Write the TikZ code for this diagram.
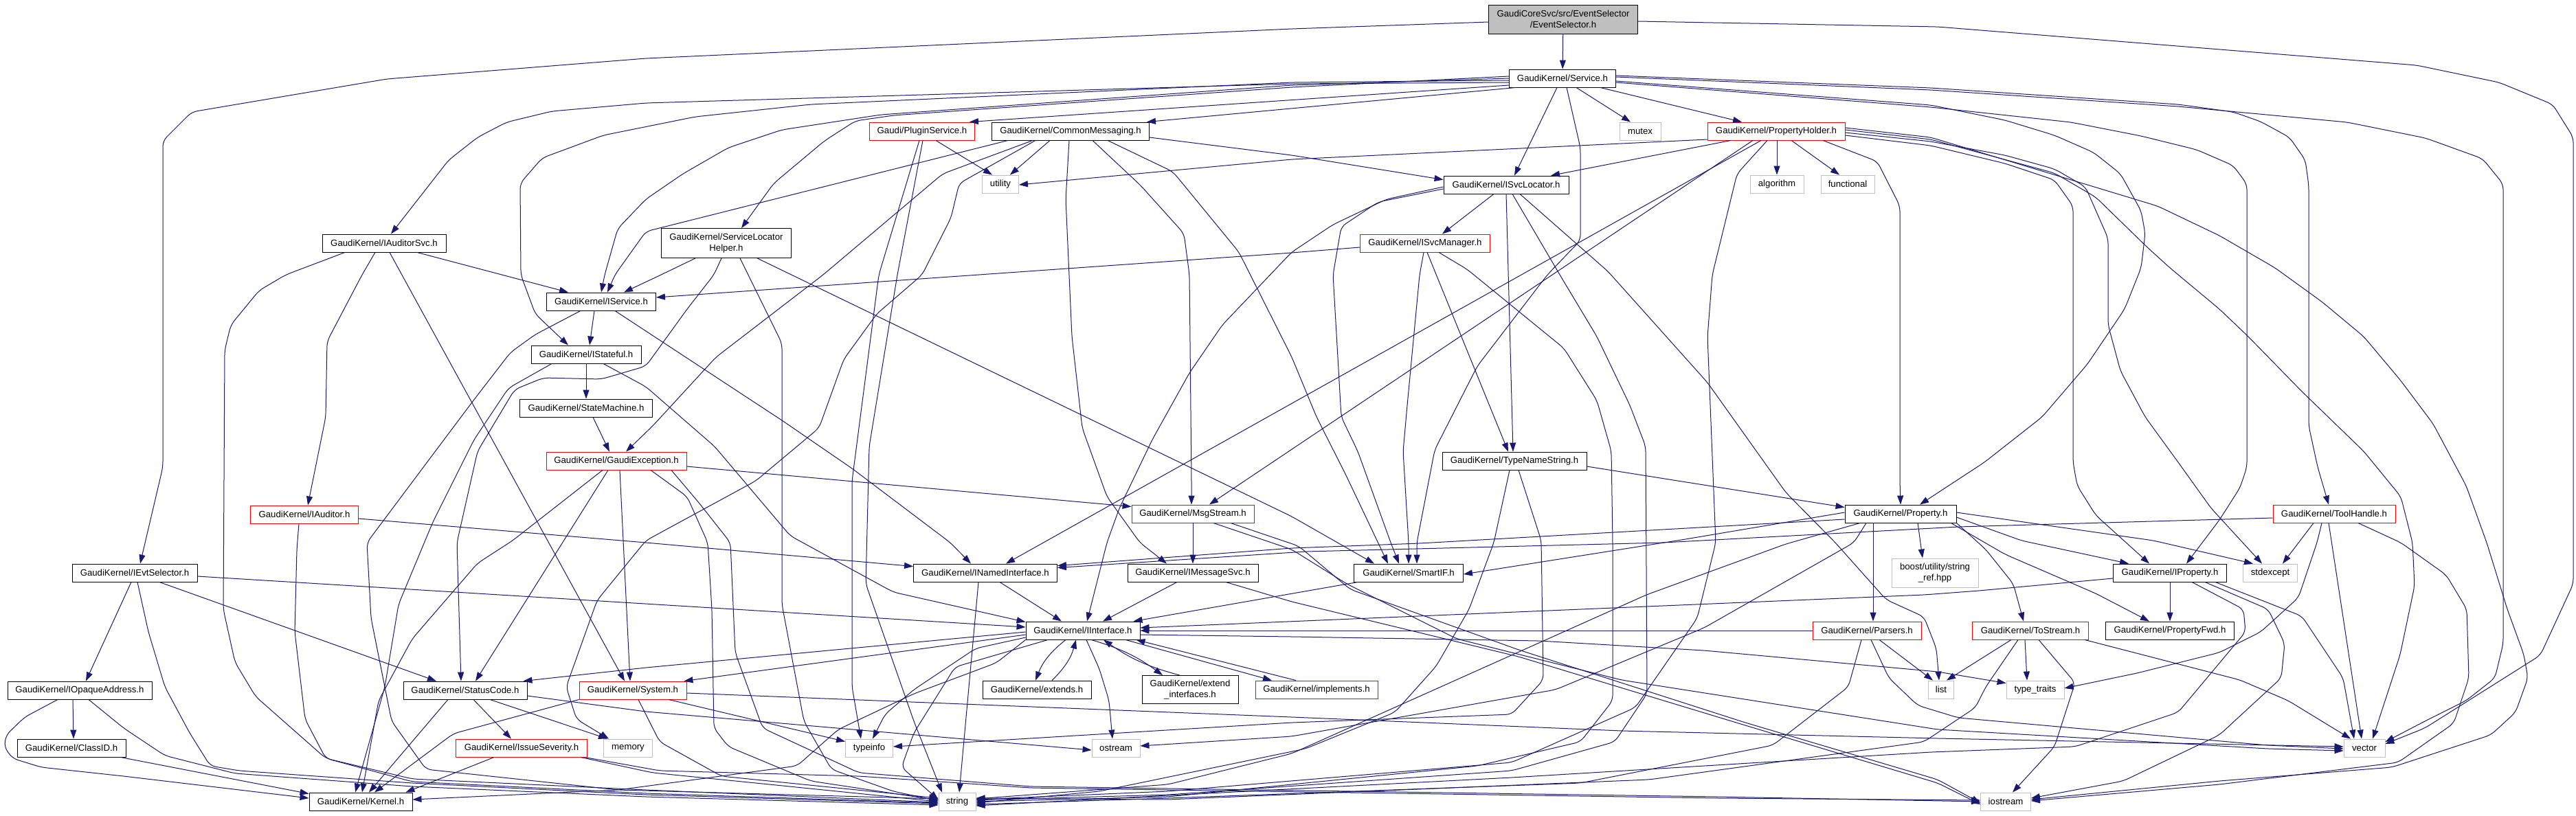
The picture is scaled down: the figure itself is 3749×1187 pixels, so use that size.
\documentclass[tikz,border=0pt]{standalone}
\usepackage{fontspec}
\setmainfont{Liberation Sans}
\usetikzlibrary{arrows.meta}
\definecolor{edgec}{RGB}{25,25,112}
\definecolor{grayb}{RGB}{191,191,191}
\begin{document}
\begin{tikzpicture}[x=1pt,y=-1pt,
  nd/.style={draw, line width=0.9pt, inner sep=1pt, minimum height=26pt, font=\fontsize{13.2}{15.5}\selectfont, align=center, text=black},
  blk/.style={nd, draw=black},
  rd/.style={nd, draw=red},
  gy/.style={nd, draw=grayb},
  root/.style={nd, draw=black, fill=grayb},
  e/.style={draw=edgec, line width=1pt, rounded corners=8pt, -{Triangle[length=13pt,width=9pt]}},
]
\fill[white] (0,0) rectangle (3749,1187);
\useasboundingbox (0,0) rectangle (3749,1187);

% ---------------- nodes ----------------
\node[root, minimum width=217pt, minimum height=42pt] (ES) at (2275,28) {GaudiCoreSvc/src/EventSelector\\/EventSelector.h};
\node[blk, minimum width=155pt] (Svc) at (2274,114) {GaudiKernel/Service.h};
\node[blk, minimum width=180pt] (IAS) at (559,354) {GaudiKernel/IAuditorSvc.h};
\node[rd, minimum width=153pt] (PS) at (1342,191) {Gaudi/PluginService.h};
\node[blk, minimum width=229pt] (CM) at (1558,191) {GaudiKernel/CommonMessaging.h};
\node[gy, minimum width=53pt] (util) at (1456,268) {utility};
\node[blk, minimum width=189pt, minimum height=43pt] (SLH) at (1057,354) {GaudiKernel/ServiceLocator\\Helper.h};
\node[gy, minimum width=60pt] (mutex) at (2387,191) {mutex};
\node[rd, minimum width=200pt] (PH) at (2585,191) {GaudiKernel/PropertyHolder.h};
\node[blk, minimum width=182pt] (ISL) at (2192,269) {GaudiKernel/ISvcLocator.h};
\node[gy, minimum width=78pt] (algo) at (2586,268) {algorithm};
\node[gy, minimum width=78pt] (func) at (2689,268) {functional};
\node[rd, minimum width=189pt] (ISM) at (2074,354) {GaudiKernel/ISvcManager.h};
\node[blk, minimum width=159pt] (IServ) at (875,439) {GaudiKernel/IService.h};
\node[blk, minimum width=160pt] (IStat) at (853,516) {GaudiKernel/IStateful.h};
\node[blk, minimum width=193pt] (SM) at (853,594) {GaudiKernel/StateMachine.h};
\node[rd, minimum width=204pt] (GE) at (897,671) {GaudiKernel/GaudiException.h};
\node[rd, minimum width=157pt] (IAud) at (443,749) {GaudiKernel/IAuditor.h};
\node[rd, minimum width=178pt] (MS) at (1736,748) {GaudiKernel/MsgStream.h};
\node[blk, minimum width=210pt] (TNS) at (2204,671) {GaudiKernel/TypeNameString.h};
\node[blk, minimum width=162pt] (Prop) at (2766,748) {GaudiKernel/Property.h};
\node[rd, minimum width=178pt] (TH) at (3397,748) {GaudiKernel/ToolHandle.h};
\node[blk, minimum width=182pt] (IES) at (196,834) {GaudiKernel/IEvtSelector.h};
\node[blk, minimum width=210pt] (IOA) at (116,1005) {GaudiKernel/IOpaqueAddress.h};
\node[blk, minimum width=158pt] (CID) at (104,1089) {GaudiKernel/ClassID.h};
\node[blk, minimum width=150pt] (Kern) at (525,1167) {GaudiKernel/Kernel.h};
\node[blk, minimum width=180pt] (SC) at (677,1005) {GaudiKernel/StatusCode.h};
\node[rd, minimum width=156pt] (Sys) at (921,1005) {GaudiKernel/System.h};
\node[rd, minimum width=191pt] (ISev) at (759,1089) {GaudiKernel/IssueSeverity.h};
\node[gy, minimum width=71pt] (mem) at (914,1089) {memory};
\node[blk, minimum width=209pt] (INI) at (1434,834) {GaudiKernel/INamedInterface.h};
\node[blk, minimum width=190pt] (IMS) at (1736,834) {GaudiKernel/IMessageSvc.h};
\node[blk, minimum width=166pt] (II) at (1576,918) {GaudiKernel/IInterface.h};
\node[blk, minimum width=158pt] (ext) at (1509,1004) {GaudiKernel/extends.h};
\node[blk, minimum width=140pt, minimum height=41pt] (exti) at (1732,1004) {GaudiKernel/extend\\\_interfaces.h};
\node[rd, minimum width=178pt] (impl) at (1916,1004) {GaudiKernel/implements.h};
\node[gy, minimum width=69pt] (tinfo) at (1265,1089) {typeinfo};
\node[gy, minimum width=70pt] (ostr) at (1624,1089) {ostream};
\node[gy, minimum width=54pt] (str) at (1393,1167) {string};
\node[blk, minimum width=159pt] (SIF) at (2050,834) {GaudiKernel/SmartIF.h};
\node[rd, minimum width=158pt] (Pars) at (2717,918) {GaudiKernel/Parsers.h};
\node[gy, minimum width=126pt, minimum height=42pt] (boost) at (2816,834) {boost/utility/string\\\_ref.hpp};
\node[gy, minimum width=37pt] (list) at (2825,1004) {list};
\node[blk, minimum width=165pt] (IProp) at (3158,834) {GaudiKernel/IProperty.h};
\node[gy, minimum width=79pt] (stdex) at (3304,834) {stdexcept};
\node[rd, minimum width=169pt] (TS) at (2955,918) {GaudiKernel/ToStream.h};
\node[blk, minimum width=187pt] (PF) at (3158,918) {GaudiKernel/PropertyFwd.h};
\node[gy, minimum width=84pt] (tt) at (2962,1004) {type\_traits};
\node[gy, minimum width=60pt] (vec) at (3441,1089) {vector};
\node[gy, minimum width=73pt] (iostr) at (2919,1167) {iostream};

% ---------------- edges ----------------
% EventSelector
\draw[e] (ES) -- (Svc);
\draw[e] ([yshift=-4pt]ES.west) -- (1880,42) -- (940,85) -- (563,115) -- (279,163) -- (237,205) -- (237,680) -- ([xshift=8pt]IES.north);
\draw[e] ([yshift=-3pt]ES.east) -- (2820,39) -- (3517,95) -- (3637,120) -- (3715,152) -- (3745,200) -- (3745,850) -- (3697,954) -- (3529,1060) -- ([yshift=6pt]vec.east);

% Service
\draw[e] ([yshift=-6pt]Svc.west) -- (1880,122) -- (940,150) -- (803,162) -- (737,178) -- (695,200) -- (653,233) -- ([xshift=10pt]IAS.north);
\draw[e] ([yshift=-3pt]Svc.west) -- (1880,120) -- (1180,152) -- (1012,170) -- (878,197) -- (789,230) -- (757,267) -- (758,400) -- (779,457) -- ([xshift=-26pt]IStat.north);
\draw[e] (Svc.west) -- (1880,124) -- (1282,167) -- (1138,189) -- (1060,215) -- (994,253) -- (940,290) -- (899,333) -- (880,400) -- (IServ.north);
\draw[e] ([yshift=3pt]Svc.west) -- (1880,127) -- (1300,168) -- (1245,176) -- (1200,205) -- (1126,267) -- ([xshift=22pt]SLH.north);
\draw[e] ([yshift=-10pt]Svc.west) -- ([xshift=-8pt]PS.north east);
\draw[e] ([xshift=10pt]Svc.south west) -- ([xshift=-4pt]CM.north east);
\draw[e] ([xshift=-8pt]Svc.south) -- ([xshift=12pt]ISL.north);
\draw[e] ([xshift=6pt]Svc.south) -- (2300,215) -- (2300,350) -- (2252,400) -- (2150,533) -- (2088,655) -- (2062,790) -- ([xshift=12pt]SIF.north);
\draw[e] ([xshift=20pt]Svc.south) -- ([xshift=-14pt]mutex.north);
\draw[e] ([xshift=55pt]Svc.south) -- ([xshift=-50pt]PH.north);
\draw[e] ([yshift=4pt]Svc.east) -- (2810,128) -- (3170,152) -- (3250,163) -- (3290,177) -- (3332,200) -- (3355,233) -- (3360,270) -- (3360,620) -- (3373,680) -- ([xshift=-8pt]TH.north);
\draw[e] ([yshift=2pt]Svc.east) -- (2810,131) -- (3170,155) -- (3416,178) -- (3530,201) -- (3613,231) -- (3643,268) -- (3643,937) -- (3631,987) -- (3589,1020) -- (3529,1050) -- ([yshift=9pt]vec.east);
\draw[e] ([yshift=-4pt]Svc.east) -- (2810,153) -- (2918,175) -- (2990,197) -- (3047,222) -- (3086,253) -- (3116,307) -- (3122,340) -- (3116,390) -- (3092,450) -- (3038,530) -- (2972,607) -- (2888,673) -- ([xshift=28pt]Prop.north);
\draw[e] ([yshift=-6pt]Svc.east) -- (2810,156) -- (3014,178) -- (3116,198) -- (3197,218) -- (3250,241) -- (3270,268) -- (3270,680) -- (3260,710) -- (3230,757) -- ([xshift=24pt]IProp.north);

% PropertyHolder
\draw[e] ([yshift=-12pt]PH.west) -- (1880,232) -- ([yshift=-1pt]util.east);
\draw[e] ([xshift=-66pt]PH.south) -- ([xshift=65pt]ISL.north);
\draw[e] ([xshift=-34pt]PH.south) -- ([xshift=24pt]MS.north);
\draw[e] ([xshift=-22pt]PH.south) -- ([xshift=30pt]INI.north);
\draw[e] ([xshift=-13pt]PH.south) -- (2528,253) -- (2492,400) -- (2485,490) -- (2497,790) -- (2470,900) -- (2380,1030) -- (2200,1110) -- (1700,1152) -- ([yshift=3pt]str.east);
\draw[e] ([xshift=1pt]PH.south) -- (algo.north);
\draw[e] ([xshift=22pt]PH.south) -- ([xshift=-12pt]func.north);
\draw[e] ([xshift=68pt]PH.south) -- (2732,235) -- (2765,300) -- (2765,700) -- (Prop.north);
\draw[e] ([yshift=-6pt]PH.east) -- (2810,212) -- (2918,238) -- (2990,262) -- (3017,300) -- (3017,673) -- (3023,707) -- (3050,750) -- ([xshift=-30pt]IProp.north);
\draw[e] ([yshift=-2pt]PH.east) -- (2810,206) -- (2918,226) -- (2990,246) -- (3035,272) -- (3068,347) -- (3068,473) -- (3086,540) -- (3122,607) -- (3170,673) -- (3218,740) -- ([xshift=-12pt]stdex.north);
\draw[e] ([yshift=2pt]PH.east) -- (2810,203) -- (2990,252) -- (3050,287) -- (3125,360) -- (3158,390) -- (3230,450) -- (3272,490) -- (3350,570) -- (3440,657) -- (3494,723) -- (3511,790) -- (3514,853) -- (3493,953) -- ([xshift=12pt]vec.north);
\draw[e] ([yshift=5pt]PH.east) -- (2810,200) -- (3140,300) -- (3230,343) -- (3311,390) -- (3380,440) -- (3440,490) -- (3493,553) -- (3541,617) -- (3589,707) -- (3619,790) -- (3649,887) -- (3673,953) -- (3679,987) -- (3661,1037) -- (3625,1070) -- (3481,1117) -- (3230,1137) -- ([yshift=3pt]iostr.east);

% CommonMessaging
\draw[e] ([xshift=-91pt]CM.south) -- (940,337) -- (895,400) -- ([xshift=9pt]IServ.north);
\draw[e] ([xshift=-55pt]CM.south) -- (1372,253) -- (1198,400) -- (1042,520) -- (950,620) -- ([xshift=14pt]GE.north);
\draw[e] ([xshift=-51pt]CM.south) -- (1396,267) -- (1384,317) -- (1342,400) -- (1276,457) -- (1228,523) -- (1192,623) -- (1100,700) -- (940,787) -- (869,874) -- (824,1000) -- (839,1047) -- ([xshift=-28pt]mem.north);
\draw[e] ([xshift=-30pt]CM.south) -- ([xshift=14pt]util.north);
\draw[e] ([xshift=-2pt]CM.south) -- (1551,290) -- (1560,490) -- (1575,623) -- (1611,723) -- (1659,790) -- ([xshift=-38pt]IMS.north);
\draw[e] ([xshift=32pt]CM.south) -- (1660,270) -- (1723,340) -- (1731,400) -- (1734,700) -- ([xshift=-2pt]MS.north);
\draw[e] ([xshift=54pt]CM.south) -- (1707,250) -- (1803,367) -- (1880,520) -- (1916,607) -- (1958,690) -- ([xshift=-30pt]SIF.north);
\draw[e] ([yshift=-9pt]CM.east) -- (1880,226) -- ([yshift=-6pt]ISL.north west);

% ServiceLocatorHelper
\draw[e] ([xshift=-45pt]SLH.south) -- (958,402) -- ([xshift=33pt]IServ.north);
\draw[e] ([xshift=-7pt]SLH.south) -- (1039,400) -- (1000,450) -- (940,533) -- (875,552) -- (791,550) -- (749,567) -- (695,657) -- (665,790) -- ([xshift=-6pt]SC.north);
\draw[e] ([xshift=20pt]SLH.south) -- (1138,500) -- (1138,880) -- (1170,1050) -- (1210,1120) -- (1300,1152) -- ([yshift=1pt]str.west);
\draw[e] ([xshift=45pt]SLH.south) -- (1880,752) -- ([xshift=-50pt]SIF.north);

% IAuditorSvc
\draw[e] ([xshift=48pt]IAS.south) -- ([xshift=-48pt]IServ.north);
\draw[e] ([xshift=-13pt]IAS.south) -- (527,400) -- (476,497) -- (474,607) -- ([xshift=5pt]IAud.north);
\draw[e] ([xshift=8pt]IAS.south) -- ([xshift=-12pt]Sys.north);
\draw[e] ([xshift=-57pt]IAS.south) -- (416,400) -- (377,423) -- (336,473) -- (327,510) -- (325,887) -- (342,964) -- (372,1014) -- (474,1104) -- (600,1134) -- (940,1150) -- ([yshift=-1pt]str.west);

% IEvtSelector
\draw[e] ([xshift=-5pt]IES.south) -- ([xshift=9pt]IOA.north);
\draw[e] ([xshift=36pt]IES.south) -- ([xshift=-42pt]SC.north);
\draw[e] ([yshift=-5pt]IES.east) -- ([yshift=5pt]II.west);
\draw[e] ([xshift=4pt]IES.south) -- (216,920) -- (240,1000) -- (276,1067) -- (306,1115) -- (348,1122) -- (600,1140) -- (940,1157) -- ([yshift=-3pt]str.west);

% IOpaqueAddress, ClassID
\draw[e] ([xshift=-10pt]IOA.south) -- ([xshift=3pt]CID.north);
\draw[e] ([xshift=-32pt]IOA.south) -- (36,1044) -- (9,1070) -- (6,1087) -- (18,1104) -- (60,1117) -- (180,1130) -- ([yshift=5pt]Kern.west);
\draw[e] ([xshift=13pt]IOA.south) -- (180,1060) -- (240,1100) -- (342,1126) -- (600,1145) -- (940,1160) -- ([yshift=-5pt]str.west);
\draw[e] ([xshift=-8pt]CID.south east) -- ([yshift=-2pt]Kern.north west);

% PluginService
\draw[e] ([xshift=20pt]PS.south) -- ([xshift=-12pt]util.north);
\draw[e] ([xshift=-4pt]PS.south) -- (1279,400) -- (1240,700) -- (1240,1000) -- ([xshift=-12pt]tinfo.north);
\draw[e] ([xshift=1pt]PS.south) -- (1306,400) -- (1265,650) -- (1260,850) -- (1330,1050) -- ([xshift=-22pt]str.north);

% ISvcLocator
\draw[e] ([xshift=-18pt]ISL.south) -- ([xshift=25pt]ISM.north);
\draw[e] (ISL.south) -- ([xshift=-2pt]TNS.north);
\draw[e] ([yshift=-3pt]ISL.west) -- (2018,290) -- (1940,327) -- (1880,367) -- (1779,473) -- (1731,543) -- (1677,640) -- (1629,740) -- (1611,790) -- ([xshift=6pt]II.north);
\draw[e] ([yshift=-6pt]ISL.west) -- (2006,294) -- (1952,330) -- (1940,400) -- (1952,607) -- (1976,657) -- (2024,790) -- ([xshift=-14pt]SIF.north);
\draw[e] ([xshift=9pt]ISL.south) -- (2270,400) -- (2324,490) -- (2372,590) -- (2395,650) -- (2397,1010) -- (2350,1080) -- (2200,1122) -- (1700,1157) -- ([yshift=2pt]str.east);
\draw[e] ([xshift=20pt]ISL.south) -- (2340,395) -- (2485,557) -- (2599,717) -- (2671,790) -- (2745,873) -- (2800,898) -- (2818,944) -- ([xshift=-3pt]list.north);

% ISvcManager
\draw[e] ([yshift=-6pt]ISM.west) -- (1880,368) -- ([yshift=6pt]IServ.east);
\draw[e] ([xshift=-2pt]ISM.south) -- (2066,400) -- (2048,590) -- (2042,657) -- (2050,790) -- (SIF.north);
\draw[e] ([xshift=3pt]ISM.south) -- ([xshift=-9pt]TNS.north);
\draw[e] ([xshift=20pt]ISM.south) -- (2135,392) -- (2276,507) -- (2324,583) -- (2345,657) -- (2347,790) -- (2347,1020) -- (2300,1080) -- (2150,1115) -- (1700,1160) -- (str.east);

% TypeNameString
\draw[e] ([yshift=-8pt]TNS.east) -- ([yshift=-4pt]Prop.north west);
\draw[e] ([xshift=-7pt]TNS.south) -- (2174,790) -- (2138,887) -- (2090,970) -- (2030,1037) -- (1900,1090) -- (1600,1152) -- ([yshift=-2pt]str.east);
\draw[e] ([xshift=6pt]TNS.south) -- (2243,787) -- (2246,990) -- (2200,1040) -- (1880,1052) -- ([yshift=2pt]tinfo.east);

% Property
\draw[e] ([yshift=-8pt]Prop.west) -- (2066,791) -- (1880,798) -- ([yshift=-3pt]INI.north east);
\draw[e] ([yshift=2pt]Prop.west) -- (2447,786) -- ([yshift=-2pt]SIF.east);
\draw[e] ([yshift=-5pt]Prop.east) -- (2942,787) -- ([xshift=-60pt]IProp.north);
\draw[e] ([xshift=-8pt]Prop.south east) -- (2918,807) -- (3050,864) -- ([xshift=-30pt]PF.north);
\draw[e] ([xshift=-40pt]Prop.south) -- ([xshift=9pt]Pars.north);
\draw[e] (Prop.south east) -- (2890,800) -- (2930,850) -- ([xshift=-10pt]TS.north);
\draw[e] ([xshift=25pt]Prop.south) -- ([xshift=-18pt]boost.north);
\draw[e] ([yshift=2pt]Prop.east) -- (3134,787) -- ([xshift=-25pt]stdex.north);
\draw[e] ([xshift=-59pt]Prop.south) -- (2599,792) -- (2396,866) -- (1880,1097) -- (1700,1142) -- ([yshift=4pt]str.east);
\draw[e] ([xshift=-50pt]Prop.south) -- (2698,790) -- (2480,914) -- (2264,1004) -- (1880,1072) -- ([yshift=3pt]ostr.east);

% Parsers
\draw[e] (Pars.west) -- (II.east);
\draw[e] ([xshift=-8pt]Pars.south) -- (2690,1000) -- (2580,1085) -- (2300,1140) -- (1700,1162) -- ([yshift=-4pt]str.east);
\draw[e] ([xshift=6pt]Pars.south) -- (2749,987) -- (2791,1027) -- (2850,1045) -- (3300,1085) -- ([yshift=-1pt]vec.west);
\draw[e] ([xshift=18pt]Pars.south) -- ([xshift=-12pt]list.north);

% ToStream
\draw[e] ([xshift=-28pt]TS.south) -- ([xshift=8pt]list.north);
\draw[e] ([xshift=-8pt]TS.south) -- ([xshift=-12pt]tt.north);
\draw[e] ([xshift=-18pt]TS.south) -- (2890,1000) -- (2875,1030) -- (2800,1080) -- (2400,1135) -- (1700,1164) -- ([yshift=5pt]str.east);
\draw[e] ([xshift=12pt]TS.south) -- (3020,994) -- (2990,1087) -- ([xshift=10pt]iostr.north);
\draw[e] ([xshift=-6pt]TS.south east) -- (3260,990) -- (3330,1020) -- ([xshift=-20pt]vec.north);

% IInterface
\draw[e] ([yshift=-2pt]II.west) -- (940,972) -- ([xshift=-6pt]SC.north east);
\draw[e] ([yshift=-6pt]II.west) -- ([xshift=-4pt]Sys.north east);
\draw[e] ([yshift=-10pt]II.west) -- (1420,944) -- (1330,1004) -- (1288,1040) -- ([xshift=5pt]tinfo.north);
\draw[e] ([xshift=-51pt]II.south) -- (1390,971) -- (1330,1067) -- (1312,1117) -- ([yshift=3pt]str.west);
\draw[e] ([xshift=5pt]II.south) -- (1600,974) -- (1614,1020) -- ([xshift=-5pt]ostr.north);
\draw[e] ([yshift=-6pt]II.east) -- (1880,927) -- (2240,933) -- (2480,947) -- (2820,978) -- ([yshift=-4pt]tt.north west);
\draw[e] ([xshift=-25pt]II.south) to[bend right=15] ([xshift=-2pt]ext.north);
\draw[e] ([xshift=22pt]ext.north) to[bend right=15] ([xshift=-10pt]II.south);
\draw[e] ([xshift=12pt]II.south) to[bend left=10] ([xshift=-40pt]exti.north);
\draw[e] ([xshift=-15pt]exti.north) to[bend left=10] ([xshift=30pt]II.south);
\draw[e] ([xshift=62pt]II.south) -- ([xshift=-65pt]impl.north);
\draw[e] ([xshift=-30pt]impl.north) -- ([xshift=-6pt]II.south east);
\draw[e] (II.south west) -- (1450,965) -- (1330,1010) -- (1220,1062) -- (1160,1115) -- (900,1150) -- ([yshift=3pt]Kern.east);

% INamedInterface, IMessageSvc, MsgStream, SmartIF
\draw[e] ([xshift=21pt]INI.south) -- ([xshift=-31pt]II.north);
\draw[e] ([xshift=-10pt]INI.south) -- ([xshift=3pt]str.north);
\draw[e] ([xshift=-23pt]IMS.south) -- ([xshift=29pt]II.north);
\draw[e] ([xshift=48pt]IMS.south) -- (1880,876) -- (2210,956) -- (2540,1056) -- (2820,1140) -- ([yshift=-4pt]iostr.west);
\draw[e] (MS.south) -- (IMS.north);
\draw[e] ([xshift=30pt]MS.south) -- (1880,800) -- (1960,850) -- (2120,930) -- (2360,990) -- (2820,1062) -- (3300,1090) -- ([yshift=-4pt]vec.west);
\draw[e] ([xshift=55pt]MS.south) -- (1890,795) -- (1965,858) -- (2210,946) -- (2540,1052) -- (2820,1135) -- ([yshift=-2pt]iostr.west);
\draw[e] ([xshift=6pt]SIF.south west) -- ([xshift=-10pt]II.north east);

% GaudiException
\draw[e] ([yshift=-8pt]GE.east) -- ([yshift=-3pt]MS.north west);
\draw[e] ([xshift=-20pt]GE.south) -- (746,787) -- (695,820) -- (600,930) -- (551,1020) -- ([xshift=2pt]Kern.north);
\draw[e] ([xshift=-12pt]GE.south) -- ([xshift=15pt]SC.north);
\draw[e] ([xshift=5pt]GE.south) -- ([xshift=-4pt]Sys.north);
\draw[e] ([xshift=50pt]GE.south) -- (1000,723) -- (1030,790) -- (1036,887) -- (1039,1060) -- (1060,1087) -- (1180,1137) -- ([yshift=2pt]str.west);
\draw[e] ([xshift=80pt]GE.south) -- (1018,733) -- (1063,790) -- (1070,950) -- (1110,1060) -- (1250,1125) -- (1500,1145) -- (2500,1160) -- (iostr.west);

% IStateful, IService, StateMachine
\draw[e] (IStat.south) -- (SM.north);
\draw[e] ([xshift=25pt]IStat.south) -- (940,563) -- (1040,650) -- (1150,780) -- (1300,862) -- ([yshift=-1pt]II.north west);
\draw[e] ([xshift=-50pt]IStat.south) -- (740,565) -- (690,640) -- (630,760) -- (580,880) -- (560,1000) -- ([xshift=-8pt]Kern.north);
\draw[e] ([xshift=-10pt]IServ.south) -- ([xshift=5pt]IStat.north);
\draw[e] ([xshift=20pt]IServ.south) -- (940,482) -- (1138,612) -- (1240,682) -- (1383,790) -- ([xshift=-21pt]INI.north);
\draw[e] ([xshift=-30pt]IServ.south) -- (779,487) -- (743,513) -- (689,583) -- (629,663) -- (534,790) -- (540,900) -- (570,1050) -- (620,1120) -- (900,1150) -- ([yshift=4pt]str.west);
\draw[e] ([xshift=10pt]SM.south) -- ([xshift=-10pt]GE.north);

% StatusCode, System, IssueSeverity
\draw[e] ([xshift=-25pt]SC.south) -- ([xshift=12pt]Kern.north);
\draw[e] ([xshift=12pt]SC.south) -- ([xshift=-15pt]ISev.north);
\draw[e] ([xshift=36pt]SC.south) -- ([xshift=-30pt]mem.north);
\draw[e] ([yshift=-8pt]SC.east) -- (940,1036) -- ([yshift=-3pt]ostr.west);
\draw[e] (Sys.south west) -- (660,1068) -- ([xshift=20pt]Kern.north);
\draw[e] ([xshift=52pt]Sys.south) -- ([yshift=-4pt]tinfo.north west);
\draw[e] ([xshift=8pt]Sys.south) -- (960,1080) -- (1050,1130) -- ([yshift=5pt]str.west);
\draw[e] ([yshift=-4pt]Sys.east) -- (1880,1044) -- (2360,1064) -- (2820,1075) -- ([yshift=2pt]vec.west);
\draw[e] ([xshift=-40pt]ISev.south) -- ([xshift=-10pt]Kern.north east);
\draw[e] ([xshift=-10pt]ISev.south east) -- (950,1125) -- (1100,1140) -- (str.west);
\draw[e] ([xshift=-4pt]ISev.south east) -- (960,1122) -- (1250,1130) -- (1500,1147) -- (2500,1162) -- ([yshift=2pt]iostr.west);

% IAuditor
\draw[e] ([yshift=-6pt]IAud.east) -- (940,790) -- ([yshift=-4pt]INI.north west);
\draw[e] ([xshift=-8pt]IAud.south) -- (432,800) -- (429,920) -- (444,1047) -- (474,1104) -- (600,1138) -- (940,1155) -- ([yshift=-2pt]str.west);

% ToolHandle
\draw[e] ([yshift=-6pt]TH.west) -- (2850,767) -- (2420,790) -- (1900,803) -- ([yshift=-6pt]INI.north east);
\draw[e] ([xshift=-30pt]TH.south) -- ([xshift=18pt]stdex.north);
\draw[e] ([xshift=-18pt]TH.south) -- (3372,790) -- (3345,870) -- (3290,920) -- (3230,950) -- (3110,980) -- ([yshift=2pt]tt.east);
\draw[e] ([xshift=-8pt]TH.south) -- ([xshift=-4pt]vec.north);
\draw[e] ([xshift=35pt]TH.south) -- (3494,790) -- (3560,837) -- (3590,887) -- (3593,987) -- (3571,1053) -- (3490,1110) -- (3230,1142) -- ([yshift=1pt]iostr.east);

% IProperty
\draw[e] ([yshift=-8pt]IProp.west) -- (2880,860) -- (2800,866) -- ([yshift=4pt]II.east);
\draw[e] (IProp.south) -- (PF.north);
\draw[e] ([xshift=32pt]IProp.south) -- (3265,887) -- (3268,920) -- (3170,1037) -- (3020,1087) -- (2810,1095) -- (2200,1132) -- (1700,1158) -- ([yshift=-6pt]str.east);
\draw[e] ([xshift=51pt]IProp.south) -- (3301,887) -- (3325,937) -- (3320,987) -- (3230,1070) -- (3090,1137) -- ([yshift=5pt]iostr.east);
\draw[e] ([xshift=66pt]IProp.south) -- (3350,897) -- (3410,987) -- ([xshift=-15pt]vec.north);
\end{tikzpicture}
\end{document}
